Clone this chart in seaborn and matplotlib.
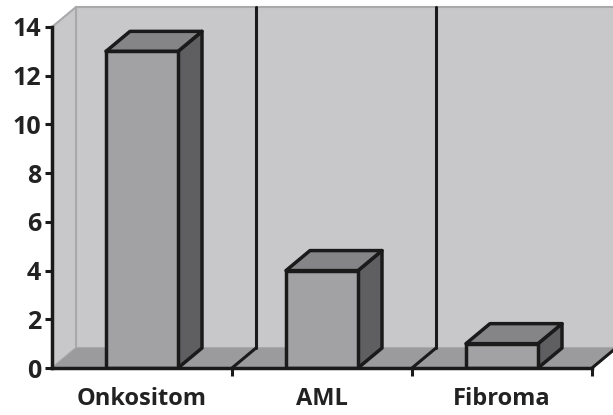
import matplotlib
matplotlib.use('Agg')
import matplotlib.pyplot as plt
import seaborn as sns
import pandas as pd
from matplotlib.patches import Polygon

# data
categories = ['Onkositom', 'AML', 'Fibroma']
counts = [13, 4, 1]
yticks = [0, 2, 4, 6, 8, 10, 12, 14]

df = pd.DataFrame({'type': categories, 'n': counts})

sns.set_style('white')
plt.rcParams['font.family'] = ['Open Sans', 'DejaVu Sans']
plt.rcParams['font.weight'] = 'bold'

fig = plt.figure(figsize=(6.13, 4.15), dpi=100)
ax = fig.add_axes([52/613, (415-368)/415, 540/613, 341/415])
ax.patch.set_visible(False)

# colours of the fake 3d box
wall = '#c8c8ca'
floor = '#9b9b9d'
front = '#a2a2a4'
top = '#858587'
side = '#5f5f61'
ink = '#1a1a1a'

sns.barplot(data=df, x='type', y='n', color=front, width=0.4, saturation=1,
            edgecolor=ink, linewidth=2.5, ax=ax, zorder=5)

ymax = yticks[-1]
ax.set_xlim(-0.5, len(categories) - 0.5)
ax.set_ylim(0, ymax)
x0, x1 = ax.get_xlim()

# depth offset (24 px right, 20 px up) in data units
dx = 24 / 180
dy = 20 / (341 / ymax)

# walls and floor
ax.add_patch(Polygon([(x0 + dx, dy), (x1 + dx, dy), (x1 + dx, ymax + dy), (x0 + dx, ymax + dy)],
                     closed=True, fc=wall, ec='#a9a9ab', lw=1.5, clip_on=False, zorder=0))
ax.add_patch(Polygon([(x0, 0), (x0 + dx, dy), (x0 + dx, ymax + dy), (x0, ymax)],
                     closed=True, fc=wall, ec='#a9a9ab', lw=1.5, clip_on=False, zorder=0.5))
ax.add_patch(Polygon([(x0, 0), (x1, 0), (x1 + dx, dy), (x0 + dx, dy)],
                     closed=True, fc=floor, ec='none', clip_on=False, zorder=1))

# category separators
for b in [0.5, 1.5, 2.5]:
    ax.plot([b, b + dx], [0, dy], color=ink, lw=2.2, clip_on=False, zorder=2)
    if b < x1:
        ax.plot([b + dx, b + dx], [dy, ymax + dy], color=ink, lw=2.2, clip_on=False, zorder=2)

# top and side faces of the bars
for p in ax.patches:
    if not isinstance(p, matplotlib.patches.Rectangle):
        continue
    bx, bw, bh = p.get_x(), p.get_width(), p.get_height()
    if bw > 1:
        continue
    ax.add_patch(Polygon([(bx + bw, 0), (bx + bw + dx, dy), (bx + bw + dx, bh + dy), (bx + bw, bh)],
                         closed=True, fc=side, ec=ink, lw=2.5, joinstyle='round', clip_on=False, zorder=4))
    ax.add_patch(Polygon([(bx, bh), (bx + dx, bh + dy), (bx + bw + dx, bh + dy), (bx + bw, bh)],
                         closed=True, fc=top, ec=ink, lw=2.5, joinstyle='round', clip_on=False, zorder=4))

# axes
for s in ['top', 'right']:
    ax.spines[s].set_visible(False)
for s in ['left', 'bottom']:
    ax.spines[s].set_color(ink)
    ax.spines[s].set_linewidth(2.5)
    ax.spines[s].set_zorder(6)
ax.set_yticks(yticks)
ax.set_xticks([0.5, 1.5, 2.5], minor=True)
ax.tick_params(axis='y', which='major', direction='out', length=5, width=2.2, color=ink,
               labelsize=18, pad=3, left=True)
ax.tick_params(axis='x', which='major', length=0, labelsize=17, pad=14)
ax.tick_params(axis='x', which='minor', direction='out', length=6, width=2.2, color=ink, bottom=True)
for lab in ax.get_xticklabels() + ax.get_yticklabels():
    lab.set_fontweight('bold')
    lab.set_color('#222222')
ax.set_xlabel('')
ax.set_ylabel('')

fig.savefig('out.png', dpi=100)
